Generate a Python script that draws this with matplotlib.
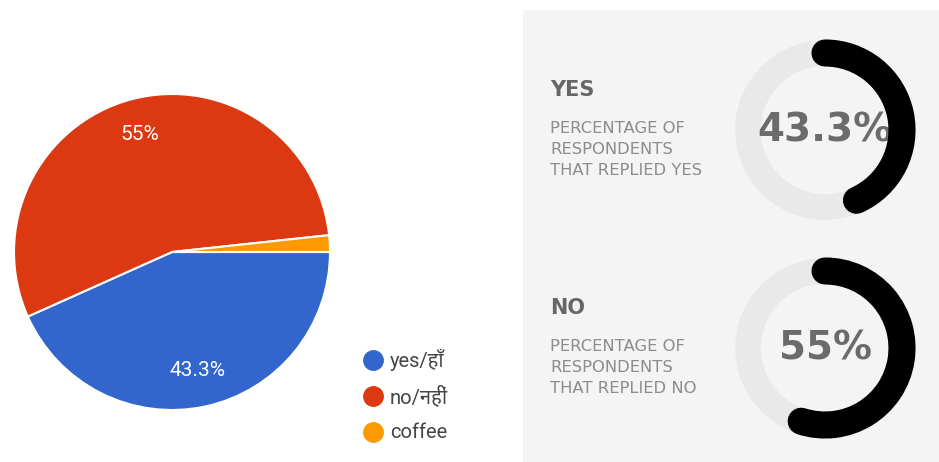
import matplotlib
matplotlib.use("Agg")
import matplotlib.pyplot as plt
import numpy as np
from matplotlib.patches import Arc, Rectangle

# survey answers (percent)
labels = ["yes/हाँ", "no/नहीं", "coffee"]
values = [43.3, 55, 1.7]
pct_text = ["43.3%", "55%", ""]
colors = ["#3366cc", "#dc3912", "#ff9900"]

# gauge cards on the right
card_titles = ["YES", "NO"]
card_notes = ["PERCENTAGE OF\nRESPONDENTS\nTHAT REPLIED YES",
              "PERCENTAGE OF\nRESPONDENTS\nTHAT REPLIED NO"]
card_values = [43.3, 55]
card_text = ["43.3%", "55%"]

W, H = 939, 462
fig = plt.figure(figsize=(W / 100, H / 100), dpi=100)
fig.patch.set_facecolor("white")

def px(x, y, w, h):
    return [x / W, 1 - (y + h) / H, w / W, h / H]

hindi = ["Roboto", "Noto Sans Devanagari", "Lohit Devanagari", "FreeSans", "DejaVu Sans"]

# --- card panel (behind everything) ---
fig.patches.append(Rectangle((523 / W, 0), (W - 523) / W, (H - 10) / H,
                             transform=fig.transFigure, facecolor="#f4f4f4",
                             edgecolor="none", zorder=-5))

# --- pie ---
ax = fig.add_axes(px(14, 94, 316, 316))
wedges, _ = ax.pie(values, colors=colors, startangle=0, counterclock=False,
                   wedgeprops=dict(edgecolor="white", linewidth=1.5))
start = 0.0
for v, t in zip(values, pct_text):
    mid = np.deg2rad(start - v * 3.6 / 2)
    start -= v * 3.6
    if t:
        ax.text(0.77 * np.cos(mid), 0.77 * np.sin(mid), t, color="white",
                fontsize=15, ha="center", va="center", family="Roboto")
ax.set_xlim(-1, 1)
ax.set_ylim(-1, 1)
ax.set_aspect("equal")
ax.axis("off")

# legend
for i, (lab, c) in enumerate(zip(labels, colors)):
    y = 360 + i * 36
    fig.lines.append(plt.Line2D([373 / W], [1 - y / H], marker="o", markersize=14,
                                color=c, transform=fig.transFigure))
    fig.text(390 / W, 1 - y / H, lab, fontsize=14.5, color="#444444",
             va="center", ha="left", family=hindi)

for i in range(2):
    cy = 130 + i * 218
    ty = 90 + i * 218
    fig.text(550 / W, 1 - ty / H, card_titles[i], fontsize=15, weight="bold",
             color="#666666", va="center", ha="left")
    fig.text(550 / W, 1 - (ty + 31) / H, card_notes[i], fontsize=11.8,
             color="#8c8c8c", va="top", ha="left", linespacing=1.52)

    g = fig.add_axes(px(825 - 100, cy - 100, 200, 200))
    g.set_xlim(-100, 100)
    g.set_ylim(-100, 100)
    g.set_aspect("equal")
    g.axis("off")
    # background ring
    g.add_patch(Arc((0, 0), 2 * 77, 2 * 77, theta1=0, theta2=360,
                    color="#e9e9e9", linewidth=18.5, zorder=1))
    g.text(0, 0, card_text[i], fontsize=28, weight="heavy", color="#6b6b6b",
           ha="center", va="center", zorder=2)
    # value arc, clockwise from the top, drawn over the number
    sweep = card_values[i] * 3.6
    g.add_patch(Arc((0, 0), 2 * 77, 2 * 77, theta1=90 - sweep, theta2=90,
                    color="black", linewidth=19.5, capstyle="round", zorder=3))

fig.savefig("out.png", dpi=100)
